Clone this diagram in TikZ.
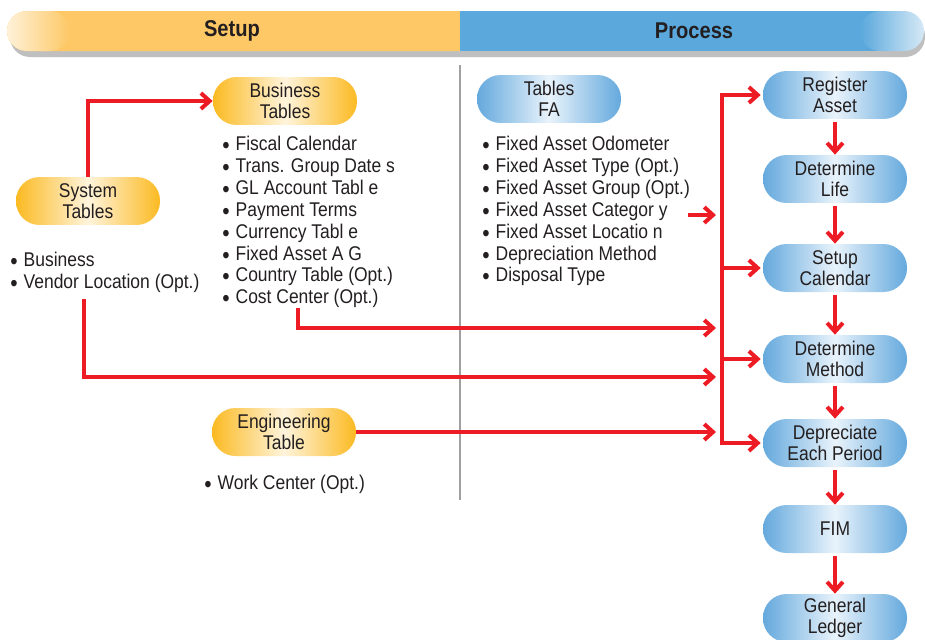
\documentclass[tikz,border=0pt]{standalone}
\usepackage{fontspec}
\setmainfont{Liberation Sans}[FakeStretch=0.88]
\usetikzlibrary{arrows.meta}

\definecolor{ink}{HTML}{231F20}
\definecolor{setupyellow}{HTML}{FDC865}
\definecolor{processblue}{HTML}{5AA8DC}
\definecolor{pillyellow}{HTML}{FBBA22}
\definecolor{pillyellowc}{HTML}{FFF4DC}
\definecolor{pillblue}{HTML}{64A9DD}
\definecolor{pillbluec}{HTML}{E9F3FB}
\definecolor{flowred}{HTML}{ED1C24}
\definecolor{divgray}{HTML}{A0A0A0}

\newcommand{\listbul}{\raisebox{-0.28ex}{\scalebox{1.2}{•}}\hspace{0.3em}}

\tikzset{
  pill/.style={rectangle, rounded corners=0.47cm, minimum width=2.88cm,
    minimum height=0.96cm, inner sep=0pt, align=center, text=ink,
    font=\fontsize{11.3}{12}\selectfont},
  setuppill/.style={pill, left color=pillyellow, right color=pillyellow, middle color=pillyellowc},
  procpill/.style={pill, left color=pillblue, right color=pillblue, middle color=pillbluec},
  itemlist/.style={anchor=north west, inner sep=0pt, align=left, text=ink,
    font=\fontsize{11.3}{12.45}\selectfont},
  heading/.style={text=ink, font=\bfseries\fontsize{13}{14}\selectfont},
  flow/.style={draw=flowred, line width=0.08cm, -{Straight Barb[length=5pt,width=9pt]}}
}

\begin{document}
\begin{tikzpicture}[x=0.02cm, y=-0.02cm]
  \useasboundingbox (0,0) rectangle (925,639);

  % header bar
  \fill[gray!50, rounded corners=0.4cm] (10,16) rectangle (925,57);
  \fill[setupyellow, rounded corners=0.4cm] (7,11) rectangle (480,51);
  \shade[rounded corners=0.4cm, left color=setupyellow!25!white, right color=setupyellow] (7,11) rectangle (70,51);
  \fill[processblue] (460,11) rectangle (880,51);
  \shade[rounded corners=0.4cm, left color=processblue, right color=processblue!25!white] (860,11) rectangle (924,51);
  \node[heading] (setup) at (232,31) {Setup};
  \node[heading] (process) at (694,31) {Process};

  \draw[divgray, line width=0.9pt] (460,65) -- (460,500);

  % setup side
  \node[setuppill] (sys) at (88,201) {System\\Tables};
  \node[setuppill] (biz) at (285,101) {Business\\Tables};
  \node[setuppill] (eng) at (284,432) {Engineering\\Table};

  \node[itemlist] (syslist) at (10,252) {\listbul Business\\\listbul Vendor Location (Opt.)};
  \node[itemlist] (bizlist) at (222,136) {\listbul Fiscal Calendar\\\listbul Trans. Group Date s\\\listbul GL Account Tabl e\\\listbul Payment Terms\\\listbul Currency Tabl e\\\listbul Fixed Asset A G\\\listbul Country Table (Opt.)\\\listbul Cost Center (Opt.)};
  \node[itemlist] (englist) at (204,475) {\listbul Work Center (Opt.)};

  % process side
  \node[procpill] (fa) at (549,99) {Tables\\FA};
  \node[itemlist] (falist) at (482,136) {\listbul Fixed Asset Odometer\\\listbul Fixed Asset Type (Opt.)\\\listbul Fixed Asset Group (Opt.)\\\listbul Fixed Asset Categor y\\\listbul Fixed Asset Locatio n\\\listbul Depreciation Method\\\listbul Disposal Type};

  \node[procpill] (reg) at (835,95) {Register\\Asset};
  \node[procpill] (life) at (835,179) {Determine\\Life};
  \node[procpill] (cal) at (835,268) {Setup\\Calendar};
  \node[procpill] (meth) at (835,359) {Determine\\Method};
  \node[procpill] (dep) at (835,443) {Depreciate\\Each Period};
  \node[procpill] (fim) at (835,529) {FIM};
  \node[procpill] (gl) at (835,618) {General\\Ledger};

  \coordinate (trunktop) at (722,95);
  \coordinate (trunkbot) at (722,443);
  \coordinate (fastart) at (688,215);
  \coordinate (ccstart) at (298,308);
  \coordinate (venstart) at (84,299);

  % connectors
  \draw[flow] (sys.north) |- (biz.west);
  \draw[flow, shorten >=0.04cm] (trunkbot) |- (reg.west);
  \draw[flow, shorten >=0.04cm] (trunktop) |- (dep.west);
  \draw[flow, shorten >=0.04cm] (cal.west -| trunktop) -- (cal.west);
  \draw[flow, shorten >=0.04cm] (meth.west -| trunktop) -- (meth.west);

  \draw[flow, shorten >=0.12cm] (fastart) -- (fastart -| trunktop);
  \draw[flow, shorten >=0.12cm] (ccstart) |- (722,328);
  \draw[flow, shorten >=0.12cm] (venstart) |- (722,377);
  \draw[flow, shorten >=0.12cm] (eng.east) -- (eng.east -| trunktop);

  \draw[flow, shorten <=0.06cm] (reg) -- (life);
  \draw[flow, shorten <=0.06cm] (life) -- (cal);
  \draw[flow, shorten <=0.06cm] (cal) -- (meth);
  \draw[flow, shorten <=0.06cm] (meth) -- (dep);
  \draw[flow, shorten <=0.06cm] (dep) -- (fim);
  \draw[flow, shorten <=0.06cm] (fim) -- (gl);
\end{tikzpicture}
\end{document}
